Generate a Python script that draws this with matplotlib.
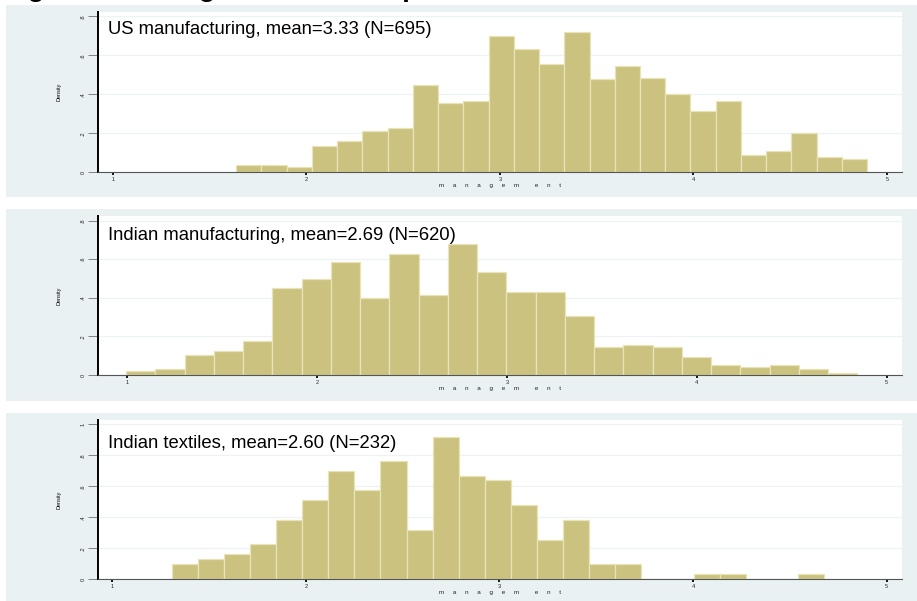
import numpy as np
import matplotlib
matplotlib.use("Agg")
import matplotlib.pyplot as plt
from matplotlib.patches import Rectangle

plt.rcParams["font.family"] = ["Liberation Sans", "DejaVu Sans"]

# histogram densities (25 equal-width bins per sample)
us_start, us_width = 1.638, 0.1304
us_density = [0.035, 0.035, 0.025, 0.135, 0.158, 0.213, 0.225, 0.446, 0.357, 0.368,
              0.700, 0.634, 0.554, 0.720, 0.476, 0.544, 0.486, 0.400, 0.312, 0.368,
              0.090, 0.110, 0.200, 0.079, 0.067]

in_start, in_width = 0.995, 0.1540
in_density = [0.019, 0.031, 0.104, 0.124, 0.176, 0.449, 0.500, 0.585, 0.397, 0.625,
              0.416, 0.679, 0.534, 0.428, 0.428, 0.304, 0.145, 0.154, 0.145, 0.093,
              0.052, 0.041, 0.052, 0.031, 0.010]

tx_start, tx_width = 1.307, 0.1348
tx_density = [0.099, 0.129, 0.161, 0.228, 0.383, 0.512, 0.699, 0.576, 0.763, 0.318,
              0.920, 0.667, 0.639, 0.480, 0.256, 0.383, 0.099, 0.099, 0.0, 0.0,
              0.034, 0.034, 0.0, 0.0, 0.034]

labels = ["US manufacturing, mean=3.33 (N=695)",
          "Indian manufacturing, mean=2.69 (N=620)",
          "Indian textiles, mean=2.60 (N=232)"]
y_ticks = [[0, .2, .4, .6, .8], [0, .2, .4, .6, .8], [0, .2, .4, .6, .8, 1]]
y_ticklabels = [["0", ".2", ".4", ".6", ".8"], ["0", ".2", ".4", ".6", ".8"],
                ["0", ".2", ".4", ".6", ".8", "1"]]
x_ticks = [1, 2, 3, 4, 5]

W, H = 917, 601
BG = "#EAF1F3"
BAR = "#CAC27E"
BAR_EDGE = "#E8E3B8"

fig = plt.figure(figsize=(W / 100, H / 100), dpi=100)
fig.patch.set_facecolor("white")


def px_rect(x0, y0, x1, y1):
    # pixel box (top-left origin) -> figure fraction [left, bottom, width, height]
    return [x0 / W, 1 - y1 / H, (x1 - x0) / W, (y1 - y0) / H]


# shaded graph regions behind each panel
for (y0, y1) in [(5, 197), (209, 401), (413, 601)]:
    l, b, w, h = px_rect(6, y0, W, y1)
    fig.patches.append(Rectangle((l, b), w, h, transform=fig.transFigure,
                                 facecolor=BG, edgecolor="none", zorder=-5))

fig.text(3 / W, 1 + 3.5 / H, "Figure 1: Management across plants",
         fontsize=20, fontweight="bold", va="baseline", ha="left")

panels = [
    dict(box=(98, 12, 902, 172.3), xlim=(0.924, 5.078), ylim=0.822, label_y=0.861,
         start=us_start, width=us_width, dens=us_density),
    dict(box=(98.3, 216, 901.7, 375), xlim=(0.849, 5.079), ylim=0.824, label_y=0.849,
         start=in_start, width=in_width, dens=in_density),
    dict(box=(98.3, 420, 902, 579.3), xlim=(0.928, 5.079), ylim=1.028, label_y=0.822,
         start=tx_start, width=tx_width, dens=tx_density),
]

xlabel = "     ".join("managem") + "         " + "     ".join("ent")

for i, p in enumerate(panels):
    ax = fig.add_axes(px_rect(*p["box"]))
    ax.set_zorder(2)
    ax.set_facecolor("white")
    edges = p["start"] + p["width"] * np.arange(len(p["dens"]))
    ax.bar(edges, p["dens"], width=p["width"], align="edge",
           color=BAR, edgecolor=BAR_EDGE, linewidth=0.9, zorder=2)
    ax.set_xlim(*p["xlim"])
    ax.set_ylim(0, p["ylim"])

    ax.set_yticks(y_ticks[i])
    ax.set_yticklabels(y_ticklabels[i], rotation=90, va="center")
    ax.set_xticks(x_ticks)
    ax.set_xticklabels([str(t) for t in x_ticks])
    ax.tick_params(axis="y", length=7, width=0.6, color="#707070",
                   labelsize=4, pad=2, labelcolor="#222222")
    ax.tick_params(axis="x", length=2, width=1.3, color="black",
                   labelsize=4, pad=1.5, labelcolor="#222222")
    ax.grid(axis="y", color="#EDF2F3", linewidth=0.9, zorder=0)
    ax.set_axisbelow(True)

    for side in ["top", "right"]:
        ax.spines[side].set_visible(False)
    ax.spines["left"].set_color("black")
    ax.spines["left"].set_linewidth(1.4)
    ax.spines["bottom"].set_color("#555555")
    ax.spines["bottom"].set_linewidth(0.8)

    ax.set_ylabel("Density", fontsize=4, labelpad=14)
    ax.set_xlabel(xlabel, fontsize=4.5, labelpad=0.5, color="#222222")

    ax.text(0.0125, p["label_y"], labels[i], transform=ax.transAxes,
            fontsize=13.3, ha="left", va="baseline", color="black")

fig.savefig("out.png", dpi=100)
